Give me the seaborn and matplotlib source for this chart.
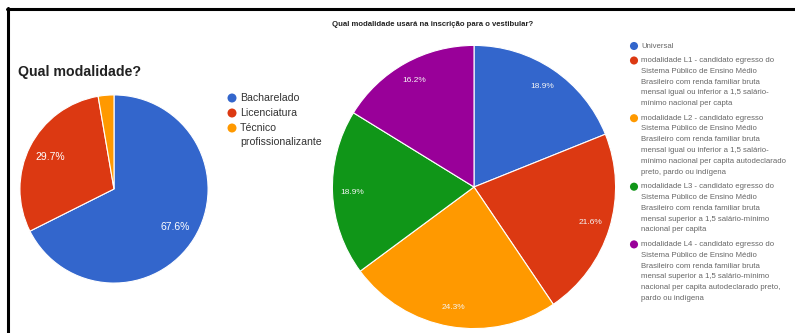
import matplotlib
matplotlib.use("Agg")
import matplotlib.pyplot as plt
import seaborn as sns
from matplotlib.lines import Line2D

sns.set_theme(style="white")
plt.rcParams['font.family'] = ['Liberation Sans', 'DejaVu Sans']

# ---- data ----
left_title = "Qual modalidade?"
left_labels = ["Bacharelado", "Licenciatura", "Técnico\nprofissionalizante"]
left_values = [67.6, 29.7, 2.7]

right_title = "Qual modalidade usará na inscrição para o vestibular?"
right_labels = [
    "Universal",
    "modalidade L1 - candidato egresso do\nSistema Público de Ensino Médio\nBrasileiro com renda familiar bruta\nmensal igual ou inferior a 1,5 salário-\nmínimo nacional per capta",
    "modalidade L2 - candidato egresso\nSistema Público de Ensino Médio\nBrasileiro com renda familiar bruta\nmensal igual ou inferior a 1,5 salário-\nmínimo nacional per capita autodeclarado\npreto, pardo ou indígena",
    "modalidade L3 - candidato egresso do\nSistema Público de Ensino Médio\nBrasileiro com renda familiar bruta\nmensal superior a 1,5 salário-mínimo\nnacional per capita",
    "modalidade L4 - candidato egresso do\nSistema Público de Ensino Médio\nBrasileiro com renda familiar bruta\nmensal superior a 1,5 salário-mínimo\nnacional per capita autodeclarado preto,\npardo ou indígena",
]
right_values = [18.9, 21.6, 24.3, 18.9, 16.2]

palette = sns.color_palette(["#3366cc", "#dc3912", "#ff9900", "#109618", "#990099"])

W, H = 795, 333
fig = plt.figure(figsize=(W / 100, H / 100), dpi=100)
fig.patch.set_facecolor("white")


def px_axes(cx, cy, r):
    return fig.add_axes([(cx - r) / W, (H - cy - r) / H, 2 * r / W, 2 * r / H])


def pct_fmt(p):
    return "" if p < 5 else f"{p:.1f}%"


# left pie
axl = px_axes(114, 189, 95)
wl, tl, al = axl.pie(left_values, colors=palette[:3], startangle=90, counterclock=False,
                     autopct=pct_fmt, pctdistance=0.76,
                     wedgeprops=dict(edgecolor="white", linewidth=0.8),
                     textprops=dict(color="white", fontsize=7.5))
axl.set_xlim(-1.01, 1.01)
axl.set_ylim(-1.01, 1.01)
axl.axis("off")

# right pie
axr = px_axes(474, 187, 143)
wr, tr, ar = axr.pie(right_values, colors=palette[:5], startangle=90, counterclock=False,
                     autopct=pct_fmt, pctdistance=0.86,
                     wedgeprops=dict(edgecolor="white", linewidth=0.8),
                     textprops=dict(color="#f4f4f4", fontsize=6))
axr.set_xlim(-1.01, 1.01)
axr.set_ylim(-1.01, 1.01)
axr.axis("off")

# overlay in pixel coordinates for titles, legends and frame
ov2 = fig.add_axes([0, 0, 1, 1], zorder=5)
ov2.set_xlim(0, W)
ov2.set_ylim(H, 0)
ov2.axis("off")
ov2.patch.set_alpha(0)

# frame
ov2.add_line(Line2D([7, W], [8.5, 8.5], color="black", linewidth=2.2))
ov2.add_line(Line2D([7.5, 7.5], [8, H], color="black", linewidth=2.2))

# titles
ov2.text(18, 72, left_title, fontsize=10.2, fontweight="bold", color="#222222",
         va="center", ha="left")
ov2.text(332, 25, right_title, fontsize=5.6, fontweight="bold", color="#222222",
         va="center", ha="left")

# left legend
y = 98
for lab, col in zip(left_labels, palette[:3]):
    ov2.scatter([232], [y], s=42, color=col, edgecolors="none")
    for i, line in enumerate(lab.split("\n")):
        ov2.text(240, y + i * 14, line, fontsize=7.6, color="#333333", va="center", ha="left")
    y += 15 + 14 * (len(lab.split("\n")) - 1)

# right legend
y = 46
for lab, col in zip(right_labels, palette[:5]):
    lines = lab.split("\n")
    ov2.scatter([634], [y], s=34, color=col, edgecolors="none")
    for i, line in enumerate(lines):
        ov2.text(641, y + i * 10.8, line, fontsize=5.6, color="#666666", va="center", ha="left")
    y += 10.8 * (len(lines) - 1) + 14.5

fig.savefig("out.png", dpi=100, facecolor="white")
